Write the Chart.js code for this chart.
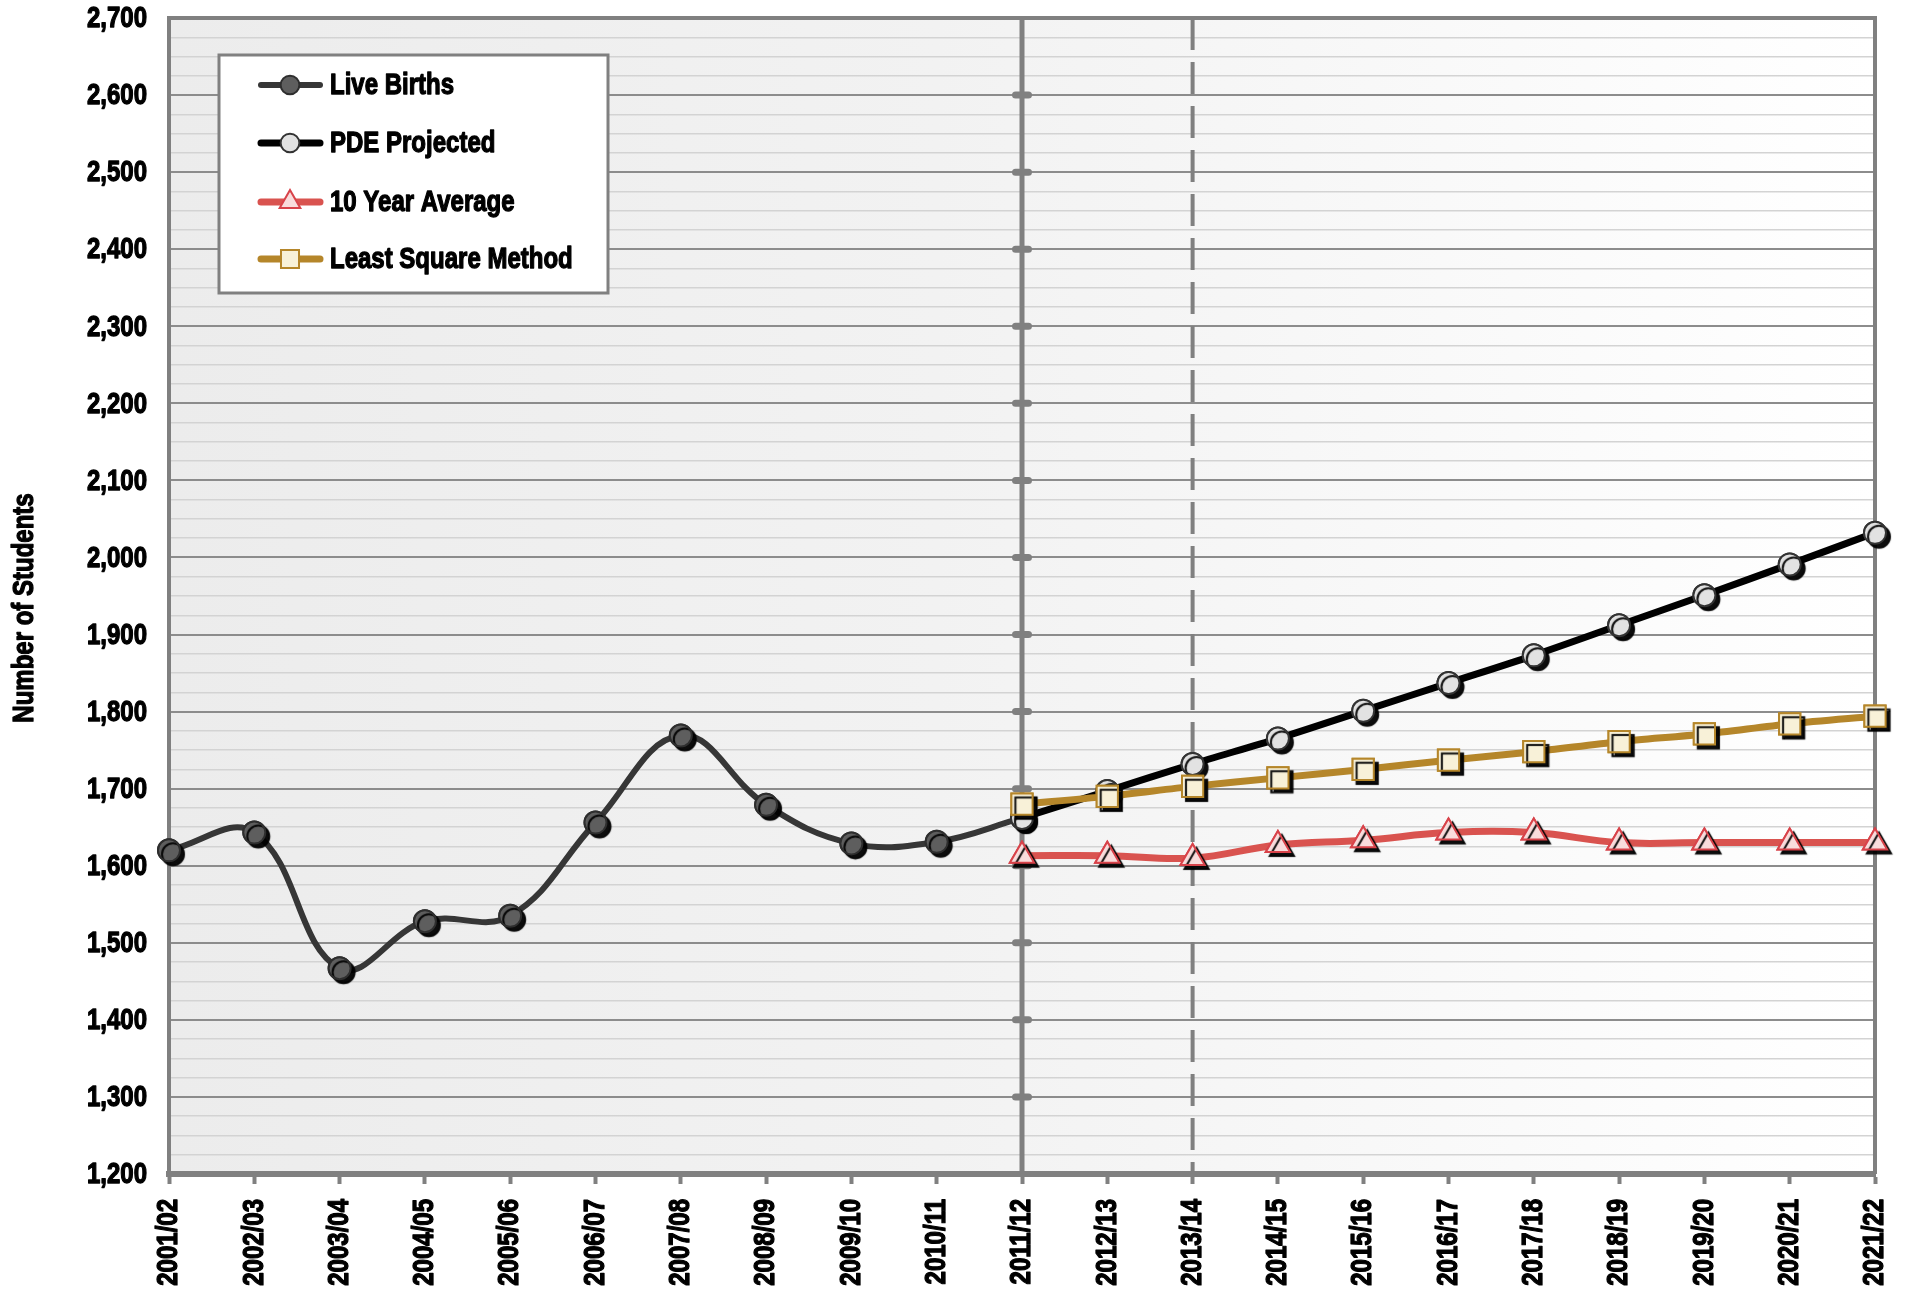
<!DOCTYPE html>
<html>
<head>
<meta charset="utf-8">
<title>Number of Students</title>
<script src="https://cdn.jsdelivr.net/npm/chart.js@4/dist/chart.umd.min.js"></script>
<style>
    body { margin: 0; background: #fff; }
    canvas { display: block; }
</style>
</head>
<body>
<canvas id="studentsChart" width="1906" height="1293"></canvas>
<script>
const years = ['2001/02', '2002/03', '2003/04', '2004/05', '2005/06', '2006/07', '2007/08',
    '2008/09', '2009/10', '2010/11', '2011/12', '2012/13', '2013/14', '2014/15', '2015/16',
    '2016/17', '2017/18', '2018/19', '2019/20', '2020/21', '2021/22'];

const liveBirths = [1620, 1643, 1467, 1528, 1535, 1656, 1769, 1679, 1629, 1631, 1662,
    null, null, null, null, null, null, null, null, null, null];
const pdeProjected = [null, null, null, null, null, null, null, null, null, null,
    1662, 1697, 1732, 1765, 1801, 1837, 1873, 1912, 1951, 1991, 2032];
const tenYearAverage = [null, null, null, null, null, null, null, null, null, null,
    1613, 1613, 1610, 1627, 1633, 1643, 1643, 1630, 1630, 1630, 1630];
const leastSquare = [null, null, null, null, null, null, null, null, null, null,
    1680, 1690, 1703, 1714, 1725, 1737, 1748, 1761, 1771, 1784, 1794];

const yMin = 1200;
const yMax = 2700;
const yStep = 25;
const yMajorStep = 100;
const yTitle = 'Number of Students';

const actualEnd = '2011/12';   // solid divider
const projectionMark = '2013/14';   // dashed divider

// no condensed face is installed, so text is squeezed horizontally and thickened
const FONT = "bold 30px 'Liberation Sans', Arial, sans-serif";
const SQUEEZE = 0.8;
const AXIS_GRAY = '#808080';

Chart.defaults.font.family = "'Liberation Sans', Arial, sans-serif";

function yTickLabel(v) {
    return v % yMajorStep === 0 ? v.toLocaleString('en-US') : '';
}

function squeezedText(ctx, text, x, y, align, angle) {
    ctx.save();
    ctx.translate(x, y);
    if (angle) ctx.rotate(angle);
    ctx.scale(SQUEEZE, 1);
    ctx.font = FONT;
    ctx.fillStyle = '#000';
    ctx.strokeStyle = '#000';
    ctx.lineWidth = 1.3;
    ctx.lineJoin = 'round';
    ctx.textAlign = align;
    ctx.textBaseline = 'middle';
    ctx.fillText(text, 0, 0);
    ctx.strokeText(text, 0, 0);
    ctx.restore();
}

// plot background, borders and the two divider lines
const frame = {
    id: 'frame',
    beforeDraw(chart) {
        const { ctx, chartArea: a } = chart;
        const g = ctx.createLinearGradient(a.left, 0, a.right, 0);
        g.addColorStop(0, '#ececec');
        g.addColorStop(0.45, '#f2f2f2');
        g.addColorStop(1, '#ffffff');
        ctx.save();
        ctx.fillStyle = g;
        ctx.fillRect(a.left, a.top, a.right - a.left, a.bottom - a.top);
        ctx.restore();
    },
    beforeDatasetsDraw(chart) {
        const { ctx, chartArea: a, scales } = chart;
        ctx.save();
        ctx.strokeStyle = AXIS_GRAY;

        // top and right edges
        ctx.lineWidth = 4;
        ctx.beginPath();
        ctx.moveTo(a.left, a.top);
        ctx.lineTo(a.right, a.top);
        ctx.lineTo(a.right, a.bottom);
        ctx.stroke();

        // dashed line
        const xd = scales.x.getPixelForValue(years.indexOf(projectionMark));
        ctx.lineWidth = 4;
        ctx.setLineDash([32, 12]);
        ctx.beginPath();
        ctx.moveTo(xd, a.top);
        ctx.lineTo(xd, a.bottom);
        ctx.stroke();
        ctx.setLineDash([]);

        // solid line with little bumps at the major gridlines
        const xs = scales.x.getPixelForValue(years.indexOf(actualEnd));
        ctx.lineWidth = 5;
        ctx.beginPath();
        ctx.moveTo(xs, a.top);
        ctx.lineTo(xs, a.bottom);
        ctx.stroke();
        ctx.fillStyle = AXIS_GRAY;
        for (let v = yMin + yMajorStep; v < yMax; v += yMajorStep) {
            const y = scales.y.getPixelForValue(v);
            ctx.beginPath();
            ctx.roundRect(xs - 10, y - 3.5, 20, 7, 3.5);
            ctx.fill();
        }
        ctx.restore();
    }
};

// markers get a hard black drop shadow, the lines do not
const markerShadow = {
    id: 'markerShadow',
    afterDatasetDraw(chart, args) {
        const { ctx } = chart;
        ctx.save();
        ctx.shadowColor = 'rgba(0,0,0,0.95)';
        ctx.shadowOffsetX = 4;
        ctx.shadowOffsetY = 4;
        ctx.shadowBlur = 1;
        args.meta.data.forEach(pt => pt.draw(ctx, chart.chartArea));
        ctx.restore();
    }
};

// tick labels and axis title
const axisText = {
    id: 'axisText',
    afterDraw(chart) {
        const { ctx, chartArea: a, scales } = chart;
        scales.y.ticks.forEach(t => {
            const label = yTickLabel(t.value);
            if (label) squeezedText(ctx, label, a.left - 22, scales.y.getPixelForValue(t.value) + 1, 'right');
        });
        scales.x.ticks.forEach((t, i) => {
            squeezedText(ctx, scales.x.getLabelForValue(t.value), scales.x.getPixelForTick(i),
                a.bottom + 25, 'right', -Math.PI / 2);
        });
        squeezedText(ctx, yTitle, 25, (a.top + a.bottom) / 2 + 12, 'center', -Math.PI / 2);
    }
};

function drawMarker(ctx, style, x, y, r) {
    ctx.beginPath();
    if (style === 'circle') {
        ctx.arc(x, y, r, 0, Math.PI * 2);
    } else if (style === 'rect') {
        const s = r * Math.SQRT1_2;
        ctx.rect(x - s, y - s, s * 2, s * 2);
    } else if (style === 'triangle') {
        ctx.moveTo(x, y - r);
        ctx.lineTo(x + r * Math.sin(Math.PI * 2 / 3), y + r / 2);
        ctx.lineTo(x - r * Math.sin(Math.PI * 2 / 3), y + r / 2);
        ctx.closePath();
    }
    ctx.fill();
    ctx.stroke();
}

// boxed legend in the upper left of the plot
const boxLegend = {
    id: 'boxLegend',
    afterDraw(chart) {
        const { ctx } = chart;
        const box = { x: 219, y: 55, w: 389, h: 238 };
        ctx.save();
        ctx.fillStyle = '#fff';
        ctx.fillRect(box.x, box.y, box.w, box.h);
        ctx.strokeStyle = AXIS_GRAY;
        ctx.lineWidth = 3;
        ctx.strokeRect(box.x, box.y, box.w, box.h);

        const rows = [85, 143, 202, 259];
        chart.data.datasets.forEach((ds, i) => {
            const y = rows[i];
            ctx.strokeStyle = ds.borderColor;
            ctx.lineWidth = ds.borderWidth;
            ctx.lineCap = 'round';
            ctx.beginPath();
            ctx.moveTo(261, y);
            ctx.lineTo(320, y);
            ctx.stroke();

            ctx.fillStyle = ds.pointBackgroundColor;
            ctx.strokeStyle = ds.pointBorderColor;
            ctx.lineWidth = ds.pointBorderWidth;
            drawMarker(ctx, ds.pointStyle, 290, y, ds.pointRadius * 0.85);

            squeezedText(ctx, ds.label, 330, y + 1, 'left');
        });
        ctx.restore();
    }
};

const ctx = document.getElementById('studentsChart').getContext('2d');
new Chart(ctx, {
    type: 'line',
    data: {
        labels: years,
        datasets: [
            {
                label: 'Live Births',
                data: liveBirths,
                borderColor: '#363636',
                borderWidth: 6,
                tension: 0.4,
                pointStyle: 'circle',
                pointRadius: 11,
                pointBackgroundColor: '#5e5e5e',
                pointBorderColor: '#2e2e2e',
                pointBorderWidth: 2,
                order: 4,
                clip: false
            },
            {
                label: 'PDE Projected',
                data: pdeProjected,
                borderColor: '#000000',
                borderWidth: 7,
                tension: 0.3,
                pointStyle: 'circle',
                pointRadius: 11,
                pointBackgroundColor: '#e2e2e2',
                pointBorderColor: '#333333',
                pointBorderWidth: 2,
                order: 3,
                clip: false
            },
            {
                label: '10 Year Average',
                data: tenYearAverage,
                borderColor: '#d9534f',
                borderWidth: 7,
                tension: 0.4,
                pointStyle: 'triangle',
                pointRadius: 14,
                pointBackgroundColor: '#f9dcdc',
                pointBorderColor: '#d8434a',
                pointBorderWidth: 2,
                order: 2,
                clip: false
            },
            {
                label: 'Least Square Method',
                data: leastSquare,
                borderColor: '#b5862a',
                borderWidth: 7,
                tension: 0.3,
                pointStyle: 'rect',
                pointRadius: 15,
                pointBackgroundColor: '#f8f1d8',
                pointBorderColor: '#b5862a',
                pointBorderWidth: 2,
                order: 1,
                clip: false
            }
        ]
    },
    options: {
        responsive: false,
        animation: false,
        layout: {
            padding: { top: 18, right: 31, left: 0, bottom: 0 }
        },
        plugins: {
            legend: { display: false },
            tooltip: { enabled: false }
        },
        scales: {
            x: {
                offset: false,
                grid: {
                    drawOnChartArea: false,
                    drawTicks: true,
                    tickLength: 10,
                    tickWidth: 4,
                    tickColor: AXIS_GRAY
                },
                border: { color: AXIS_GRAY, width: 6 },
                ticks: { display: false, autoSkip: false },
                afterFit(scale) {
                    scale.height = 119;
                    scale.paddingLeft = 0;
                    scale.paddingRight = 0;
                }
            },
            y: {
                min: yMin,
                max: yMax,
                ticks: {
                    display: false,
                    stepSize: yStep,
                    autoSkip: false,
                    callback: yTickLabel
                },
                grid: {
                    drawTicks: false,
                    color: c => (c.tick && c.tick.value % yMajorStep === 0 ? '#8c8c8c' : '#d3d3d3'),
                    lineWidth: c => (c.tick && c.tick.value % yMajorStep === 0 ? 2 : 1.5)
                },
                border: { color: AXIS_GRAY, width: 4 },
                afterFit(scale) {
                    scale.width = 169;
                    scale.paddingTop = 0;
                    scale.paddingBottom = 0;
                }
            }
        }
    },
    plugins: [frame, markerShadow, axisText, boxLegend]
});
</script>
</body>
</html>
